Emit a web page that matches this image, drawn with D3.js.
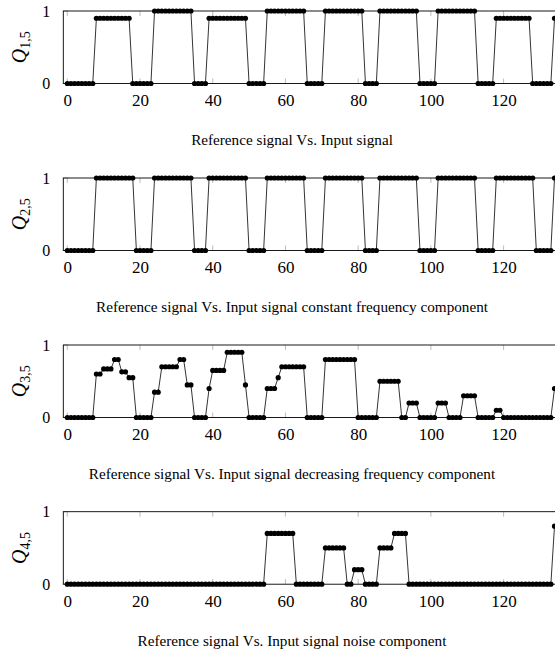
<!DOCTYPE html>
<html>
<head>
<meta charset="utf-8">
<script src="https://cdn.jsdelivr.net/npm/d3@7"></script>
<style>
  html, body { margin: 0; padding: 0; background: #fff; }
  svg { display: block; }
  text { font-family: "Liberation Serif", "DejaVu Serif", serif; fill: #000; }
</style>
</head>
<body>
<svg id="chart" width="555" height="654"></svg>
<script>
// ---- data ----
const xTicks = [0, 20, 40, 60, 80, 100, 120];
const yTicks = [0, 1];

const q1 = [
  0,0,0,0,0,0,0,0,
  0.9,0.9,0.9,0.9,0.9,0.9,0.9,0.9,0.9,0.9,
  0,0,0,0,0,0,
  1,1,1,1,1,1,1,1,1,1,1,
  0,0,0,0,
  0.9,0.9,0.9,0.9,0.9,0.9,0.9,0.9,0.9,0.9,0.9,
  0,0,0,0,0,
  1,1,1,1,1,1,1,1,1,1,1,
  0,0,0,0,0,
  1,1,1,1,1,1,1,1,1,1,1,
  0,0,0,0,
  1,1,1,1,1,1,1,1,1,1,1,
  0,0,0,0,0,
  1,1,1,1,1,1,1,1,1,1,1,
  0,0,0,0,0,
  0.9,0.9,0.9,0.9,0.9,0.9,0.9,0.9,0.9,0.9,
  0,0,0,0,0,0,
  0.9
];

const q2 = [
  0,0,0,0,0,0,0,0,
  1,1,1,1,1,1,1,1,1,1,1,
  0,0,0,0,0,
  1,1,1,1,1,1,1,1,1,1,1,
  0,0,0,0,
  1,1,1,1,1,1,1,1,1,1,1,
  0,0,0,0,0,
  1,1,1,1,1,1,1,1,1,1,1,
  0,0,0,0,0,
  1,1,1,1,1,1,1,1,1,1,1,
  0,0,0,0,
  1,1,1,1,1,1,1,1,1,1,1,
  0,0,0,0,0,
  1,1,1,1,1,1,1,1,1,1,1,
  0,0,0,0,0,
  1,1,1,1,1,1,1,1,1,1,1,
  0,0,0,0,0,
  1
];

const q3 = [
  0,0,0,0,0,0,0,0,
  0.6,0.6,
  0.67,0.67,0.67,
  0.8,0.8,
  0.63,0.63,
  0.55,0.55,
  0,0,0,0,0,
  0.35,0.35,
  0.7,0.7,0.7,0.7,0.7,
  0.8,0.8,
  0.45,0.45,
  0,0,0,0,
  0.4,
  0.65,0.65,0.65,0.65,
  0.9,0.9,0.9,0.9,0.9,
  0.45,
  0,0,0,0,0,
  0.4,0.4,0.4,
  0.55,
  0.7,0.7,0.7,0.7,0.7,0.7,0.7,
  0,0,0,0,0,
  0.8,0.8,0.8,0.8,0.8,0.8,0.8,0.8,0.8,
  0,0,0,0,0,0,
  0.5,0.5,0.5,0.5,0.5,0.5,
  0,0,
  0.2,0.2,0.2,
  0,0,0,0,0,
  0.2,0.2,0.2,
  0,0,0,0,
  0.3,0.3,0.3,0.3,
  0,0,0,0,0,
  0.1,0.1,
  0,0,0,0,0,0,0,0,0,0,0,0,0,0,
  0.4
];

const q4 = [
  0,0,0,0,0,0,0,0,0,0,0,0,0,0,0,0,0,0,0,0,
  0,0,0,0,0,0,0,0,0,0,0,0,0,0,0,0,0,0,0,0,
  0,0,0,0,0,0,0,0,0,0,0,0,0,0,0,
  0.7,0.7,0.7,0.7,0.7,0.7,0.7,0.7,
  0,0,0,0,0,0,0,0,
  0.5,0.5,0.5,0.5,0.5,0.5,
  0,0,
  0.2,0.2,0.2,
  0,0,0,0,
  0.5,0.5,0.5,0.5,
  0.7,0.7,0.7,0.7,
  0,0,0,0,0,0,0,0,0,0,0,0,0,0,0,0,0,0,0,0,
  0,0,0,0,0,0,0,0,0,0,0,0,0,0,0,0,0,0,0,0,
  0.8
];

const seriesList = [q1, q2, q3, q4];
const yLabelIdx = ["1,5", "2,5", "3,5", "4,5"];
const captions = [
  "Reference signal Vs. Input signal",
  "Reference signal Vs. Input signal constant frequency component",
  "Reference signal Vs. Input signal decreasing frequency component",
  "Reference signal Vs. Input signal noise component"
];

// ---- layout ----
const svg = d3.select("#chart");
const left = 63.3, right = 558.5;
const panelH = 72.5;
const tops = [11, 178, 345, 511.7];

const x = d3.scaleLinear().domain([-1.1, 135.1]).range([left, right]);

seriesList.forEach((vals, i) => {
  const top = tops[i];
  const y = d3.scaleLinear().domain([0, 1]).range([top + panelH, top]);
  const g = svg.append("g");

  // inner grey ticks (top and bottom)
  const tickG = g.append("g");
  xTicks.forEach(t => {
    tickG.append("line").attr("x1", x(t)).attr("x2", x(t))
      .attr("y1", top + panelH).attr("y2", top + panelH - 5)
      .attr("stroke", "#aaa").attr("stroke-width", 0.8);
    tickG.append("line").attr("x1", x(t)).attr("x2", x(t))
      .attr("y1", top).attr("y2", top + 5)
      .attr("stroke", "#aaa").attr("stroke-width", 0.8);
  });
  yTicks.forEach(t => {
    tickG.append("line").attr("x1", left).attr("x2", left + 5)
      .attr("y1", y(t)).attr("y2", y(t))
      .attr("stroke", "#aaa").attr("stroke-width", 0.8);
  });

  // frame
  g.append("rect").attr("x", left).attr("y", top)
    .attr("width", right - left).attr("height", panelH)
    .attr("fill", "none").attr("stroke", "#000").attr("stroke-width", 0.9);

  // x tick labels
  const xAxis = d3.axisBottom(x).tickValues(xTicks).tickSize(0).tickPadding(0);
  const xa = g.append("g").attr("transform", `translate(0,${top + panelH})`).call(xAxis);
  xa.select(".domain").remove();
  xa.selectAll("text").attr("dy", null).attr("y", 22.5)
    .style("font-family", '"Liberation Serif", serif').style("font-size", "17px").attr("fill", "#000");

  // y tick labels
  const yAxis = d3.axisLeft(y).tickValues(yTicks).tickFormat(d3.format("d")).tickSize(0).tickPadding(0);
  const ya = g.append("g").attr("transform", `translate(${left - 13},0)`).call(yAxis);
  ya.select(".domain").remove();
  ya.selectAll("text").attr("dy", "0.33em")
    .style("font-family", '"Liberation Serif", serif').style("font-size", "16px").attr("fill", "#000");

  // y label
  const yl = g.append("text")
    .attr("transform", `translate(26,${top + panelH / 2}) rotate(-90)`)
    .attr("text-anchor", "middle");
  yl.append("tspan").text("Q").style("font-style", "italic").style("font-size", "20px");
  yl.append("tspan").text(yLabelIdx[i]).attr("dy", 4).style("font-size", "14px");

  // line
  const line = d3.line().x((d, j) => x(j)).y(d => y(d));
  g.append("path").datum(vals).attr("d", line)
    .attr("fill", "none").attr("stroke", "#000").attr("stroke-width", 0.8);

  // markers
  g.selectAll("circle.pt").data(vals).enter().append("circle")
    .attr("class", "pt")
    .attr("cx", (d, j) => x(j)).attr("cy", d => y(d)).attr("r", 2.6)
    .attr("fill", "#000");

  // caption
  g.append("text").attr("x", 292).attr("y", top + 134)
    .attr("text-anchor", "middle").style("font-size", "15.2px")
    .text(captions[i]);
});
</script>
</body>
</html>
